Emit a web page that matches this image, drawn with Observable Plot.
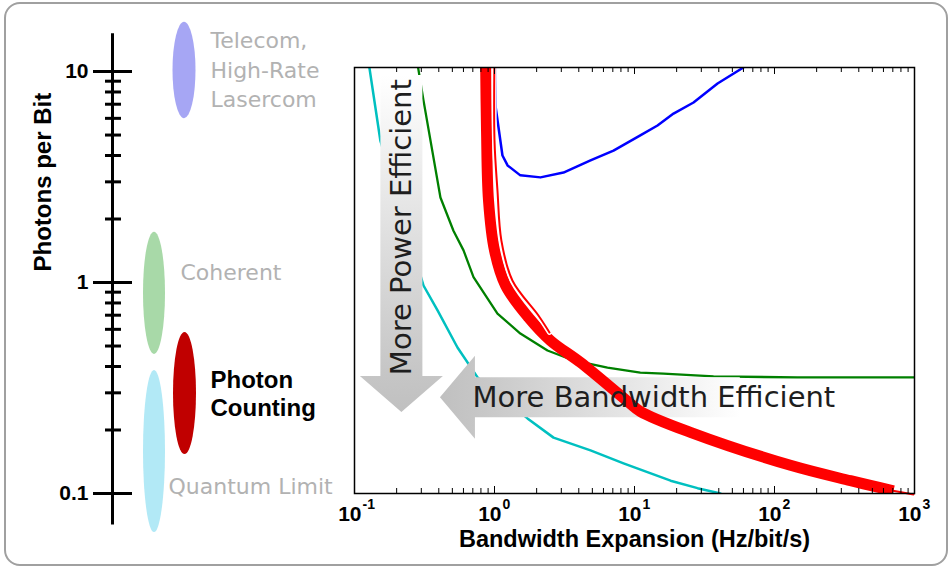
<!DOCTYPE html>
<html>
<head>
<meta charset="utf-8">
<script src="https://cdn.jsdelivr.net/npm/d3@7"></script>
<script src="https://cdn.jsdelivr.net/npm/@observablehq/plot@0.6"></script>
<style>
  body { margin: 0; background: #fff; }
  #chart { position: relative; width: 951px; height: 568px; overflow: hidden; background: #fff; }
  #border { position: absolute; left: 4px; top: 2px; width: 944px; height: 564px; box-sizing: border-box;
            border: 2px solid #a0a0a0; border-radius: 16px; }
  #chart svg.plot, #chart > svg { position: absolute; left: 0; top: 0; overflow: visible; background: transparent; }
</style>
</head>
<body>
<svg width="1" height="1" style="position:absolute;left:-10px;top:-10px">
  <defs>
    <linearGradient id="powerGrad" x1="0" y1="0" x2="0" y2="1">
      <stop offset="0" stop-color="#ffffff"/>
      <stop offset="0.5" stop-color="#dedede"/>
      <stop offset="0.88" stop-color="#c6c6c6"/>
      <stop offset="1" stop-color="#c0c0c0"/>
    </linearGradient>
    <linearGradient id="bandGrad" x1="0" y1="0" x2="1" y2="0">
      <stop offset="0" stop-color="#c0c0c0"/>
      <stop offset="0.12" stop-color="#c6c6c6"/>
      <stop offset="0.6" stop-color="#e4e4e4"/>
      <stop offset="1" stop-color="#ffffff"/>
    </linearGradient>
  </defs>
</svg>
<div id="chart"><div id="border"></div></div>
<script>
// ---- Receiver classes: photons-per-bit range of each (left scale) ----
const classNames = ["Telecom,\nHigh-Rate\nLasercom", "Coherent", "Photon\nCounting", "Quantum Limit"];
const classLow  = [5.98, 0.456, 0.153, 0.0653];
const classHigh = [17.1, 1.73, 0.580, 0.383];

// ---- Photons per bit vs. bandwidth expansion (Hz/bit/s) ----
// Telecom / high-rate lasercom (blue)
const telecomX = [1.01, 1.02, 1.14, 1.24, 1.53, 2.13, 3.11, 4.85, 7.08, 11.0, 14.6, 19.0, 26.4, 39.2, 60.0];
const telecomY = [12, 6.75, 4.0, 3.59, 3.22, 3.15, 3.32, 3.79, 4.22, 4.98, 5.55, 6.32, 7.13, 8.77, 10.45];
// Coherent (green)
const coherentX = [0.275, 0.311, 0.411, 0.509, 0.601, 0.708, 1.05, 1.53, 2.39, 3.67, 6.41, 11.0, 16.1, 36.7, 146, 1000];
const coherentY = [12, 7.3, 2.53, 1.76, 1.42, 1.06, 0.713, 0.573, 0.476, 0.427, 0.395, 0.374, 0.370, 0.359, 0.355, 0.355];
// Quantum limit (cyan)
const quantumX = [0.125, 0.153, 0.311, 0.392, 0.544, 0.757, 1.72, 2.64, 4.85, 8.35, 18.1, 28.2, 41.1];
const quantumY = [11.5, 4.71, 0.968, 0.737, 0.492, 0.355, 0.227, 0.184, 0.160, 0.139, 0.115, 0.106, 0.1];
// Photon counting (red band, its edge trace and tail)
const photonX = [0.863, 0.877, 0.906, 1.0, 1.20, 1.75, 2.51, 4.11, 8.77, 11.0, 25.1, 130, 349, 708];
const photonY = [12, 5.25, 2.45, 1.42, 0.968, 0.683, 0.531, 0.418, 0.276, 0.245, 0.195, 0.136, 0.115, 0.103];
const photonEdgeX = [1.0, 1.0, 1.05, 1.12, 1.345, 2.06, 2.47];
const photonEdgeY = [12, 4.71, 2.73, 1.58, 1.02, 0.698, 0.58];
const photonTailX = [411, 984];
const photonTailY = [0.110, 0.099];

// ---- Axis ticks ----
const decades = [0.1, 1, 10, 100, 1000];
const decadeExponents = ["-1", "0", "1", "2", "3"];
const yTickValues = [0.1, 1, 10];
const yTickLabels = ["0.1", "1", "10"];

// ---- Layout ----
const W = 951, H = 568;
const mTop = 67, mBottom = 75;
const yDomain = [0.1, 10.45];
const sans = "Liberation Sans, Arial, Helvetica, sans-serif";
const wide = "DejaVu Sans, Verdana, sans-serif";
const labelGray = "#b2b2b2";

const pts = (xs, ys) => xs.map((x, i) => ({x, y: ys[i]}));
const minorTicks = d3.range(0, 4).flatMap(k => d3.range(2, 10).map(m => m * Math.pow(10, k - 1)));
const yMinor = d3.range(0, 2).flatMap(k => d3.range(2, 10).map(m => m * Math.pow(10, k - 1)));

// ---- Left panel: photons-per-bit scale with receiver classes ----
const colX = [184, 154, 184.5, 154];      // ellipse centres (px)
const colR = [11.5, 11, 11.5, 11];        // ellipse half-widths (px)
const classFill = ["#a6a6f4", "#a8d9a8", "#c00000", "#b2e9f6"];
const centre = i => Math.sqrt(classLow[i] * classHigh[i]);

const ellipse = i => Plot.rect([i], {
  x1: () => colX[i] - colR[i], x2: () => colX[i] + colR[i],
  y1: () => classLow[i], y2: () => classHigh[i],
  fill: classFill[i], rx: 100, ry: 200
});

const left = Plot.plot({
  width: 351, height: H,
  marginLeft: 0, marginRight: 0, marginTop: mTop, marginBottom: mBottom,
  style: {background: "transparent", overflow: "visible"},
  x: {type: "linear", domain: [0, 351], axis: null},
  y: {type: "log", domain: yDomain, axis: null},
  marks: [
    Plot.ruleX([112], {x: d => d, y1: 15.1, y2: 0.071, stroke: "black", strokeWidth: 3}),
    Plot.ruleY(yTickValues, {y: d => d, x1: 93, x2: 132, stroke: "black", strokeWidth: 3}),
    Plot.ruleY(yMinor, {y: d => d, x1: 105, x2: 121, stroke: "black", strokeWidth: 3}),
    Plot.text(yTickValues, {y: d => d, x: 88, text: (d, i) => yTickLabels[i], textAnchor: "end",
      fontFamily: sans, fontWeight: "bold", fontSize: 21, fill: "black"}),
    Plot.text(["Photons per Bit"], {x: 43, frameAnchor: "left", dy: -9, rotate: -90,
      fontFamily: sans, fontWeight: "bold", fontSize: 24, fill: "black"}),
    ellipse(0), ellipse(1), ellipse(3), ellipse(2),
    Plot.text([0], {x: 210, y: () => centre(0), dy: -2, text: () => classNames[0], textAnchor: "start",
      lineHeight: 1.34, fontFamily: wide, fontSize: 22, fill: labelGray}),
    Plot.text([1], {x: 180, y: () => centre(1), dy: -20, text: () => classNames[1], textAnchor: "start",
      fontFamily: wide, fontSize: 22, fill: labelGray}),
    Plot.text([3], {x: 168, y: () => centre(3), dy: 35, text: () => classNames[3], textAnchor: "start",
      fontFamily: wide, fontSize: 22, fill: labelGray}),
    Plot.text([2], {x: 210, y: () => centre(2), text: () => classNames[2], textAnchor: "start",
      lineHeight: 1.167, fontFamily: sans, fontWeight: "bold", fontSize: 24, fill: "black"})
  ]
});
// turn the class rectangles into ellipses
d3.select(left).selectAll("g[aria-label='rect'] rect").each(function () {
  const w = +this.getAttribute("width"), h = +this.getAttribute("height");
  this.setAttribute("rx", w / 2); this.setAttribute("ry", h / 2);
});

// ---- Direction arrows (drawn in data coordinates) ----
const powerArrow = {x: 0.218, top: 9.57, tip: 0.242};
const bandArrow = {y: 0.284, tip: 0.411, tail: 57};
function arrows(index, scales) {
  const g = d3.create("svg:g");
  const vx = scales.x(powerArrow.x), vt = scales.y(powerArrow.top), vp = scales.y(powerArrow.tip);
  const sw = 21, hw = 41.5, hl = 36;
  g.append("path").attr("fill", "url(#powerGrad)")
    .attr("d", `M${vx - sw},${vt}H${vx + sw}V${vp - hl}H${vx + hw}L${vx},${vp}L${vx - hw},${vp - hl}H${vx - sw}Z`);
  const hy = scales.y(bandArrow.y), hp = scales.x(bandArrow.tip), ht = scales.x(bandArrow.tail);
  const sh = 20, hh = 41.5, hlen = 35;
  g.append("path").attr("fill", "url(#bandGrad)")
    .attr("d", `M${hp},${hy}L${hp + hlen},${hy - hh}V${hy - sh}H${ht}V${hy + sh}H${hp + hlen}V${hy + hh}Z`);
  return g.node();
}

const main = Plot.plot({
  width: W, height: H,
  marginLeft: 354, marginRight: 37, marginTop: mTop, marginBottom: mBottom,
  style: {background: "transparent", overflow: "visible"},
  x: {type: "log", domain: [0.1, 1000], axis: null},
  y: {type: "log", domain: yDomain, axis: null},
  marks: [
    Plot.line(pts(quantumX, quantumY), {x: "x", y: "y", stroke: "#00c0c0", strokeWidth: 2.5, clip: true}),
    Plot.line(pts(coherentX, coherentY), {x: "x", y: "y", stroke: "#008000", strokeWidth: 2.3, clip: true}),
    Plot.line(pts(telecomX, telecomY), {x: "x", y: "y", stroke: "#0000ff", strokeWidth: 2.5, clip: true}),
    arrows,
    Plot.line(pts(photonX, photonY), {x: "x", y: "y", stroke: "#ff0000", strokeWidth: 11,
      strokeLinecap: "butt", curve: "catmull-rom", clip: true}),
    Plot.line(pts(photonEdgeX, photonEdgeY), {x: "x", y: "y", stroke: "#ffffff", strokeWidth: 5,
      curve: "catmull-rom", clip: true}),
    Plot.line(pts(photonEdgeX, photonEdgeY), {x: "x", y: "y", stroke: "#ff0000", strokeWidth: 2,
      curve: "catmull-rom", clip: true}),
    Plot.line(pts(photonTailX, photonTailY), {x: "x", y: "y", stroke: "#ff0000", strokeWidth: 2}),
    Plot.frame({stroke: "black", strokeWidth: 1.5}),
    // inward ticks on bottom and top edges
    Plot.tickX(decades, {x: d => d, insetTop: 419, stroke: "black"}),
    Plot.tickX(minorTicks, {x: d => d, insetTop: 421, stroke: "black"}),
    Plot.tickX(decades, {x: d => d, insetBottom: 419, stroke: "black"}),
    Plot.tickX(minorTicks, {x: d => d, insetBottom: 421, stroke: "black"}),
    Plot.text(decades, {x: d => d, frameAnchor: "bottom", text: () => "10", dy: 27, dx: 7, textAnchor: "end",
      fontFamily: sans, fontWeight: "bold", fontSize: 21, fill: "black"}),
    Plot.text(decades, {x: d => d, frameAnchor: "bottom", text: (d, i) => decadeExponents[i], dy: 15.5, dx: 8,
      textAnchor: "start", fontFamily: sans, fontWeight: "bold", fontSize: 14, fill: "black"}),
    Plot.text(["Bandwidth Expansion (Hz/bit/s)"], {frameAnchor: "bottom", dy: 53,
      fontFamily: sans, fontWeight: "bold", fontSize: 23.5, fill: "black"}),
    Plot.text(["More Power Efficient"], {x: powerArrow.x, y: 1.83, rotate: -90,
      fontFamily: wide, fontSize: 29, fill: "#1e1e1e"}),
    Plot.text(["More Bandwidth Efficient"], {x: 0.697, y: bandArrow.y, textAnchor: "start",
      fontFamily: wide, fontSize: 29, fill: "#1e1e1e"})
  ]
});

const chart = document.getElementById("chart");
chart.appendChild(left);
chart.appendChild(main);
</script>
</body>
</html>
